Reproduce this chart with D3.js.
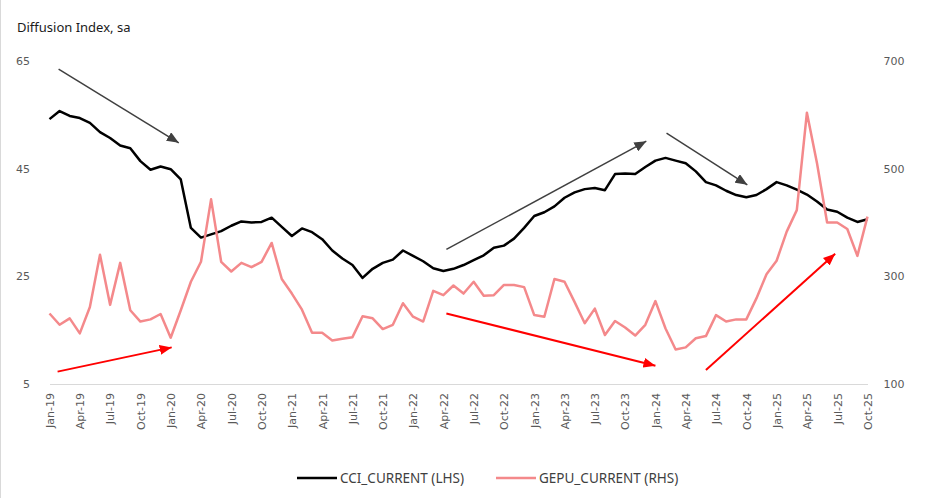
<!DOCTYPE html>
<html>
<head>
<meta charset="utf-8">
<script src="https://cdn.jsdelivr.net/npm/d3@7"></script>
<style>
  body { margin: 0; background: #fff; }
  svg text { font-family: "DejaVu Sans", sans-serif; }
</style>
</head>
<body>
<svg id="chart" width="925" height="498"></svg>
<script>
// monthly categories Jan-19 .. Oct-25
const months = d3.timeMonth.range(new Date(2019, 0, 1), new Date(2025, 10, 1)).map(d3.timeFormat("%b-%y"));

const tickLabels = ["Jan-19","Apr-19","Jul-19","Oct-19","Jan-20","Apr-20","Jul-20","Oct-20",
  "Jan-21","Apr-21","Jul-21","Oct-21","Jan-22","Apr-22","Jul-22","Oct-22",
  "Jan-23","Apr-23","Jul-23","Oct-23","Jan-24","Apr-24","Jul-24","Oct-24",
  "Jan-25","Apr-25","Jul-25","Oct-25"];

const leftTicks = [5, 25, 45, 65];
const rightTicks = [100, 300, 500, 700];

// CCI_CURRENT (LHS)
const cci = [
  54.2, 55.7, 54.8, 54.4, 53.5, 51.8, 50.7, 49.3, 48.8, 46.4, 44.8, 45.4,   // 2019
  44.9, 43.0, 34.0, 32.2, 32.8, 33.4, 34.4, 35.2, 35.0, 35.1, 35.9, 34.2,   // 2020
  32.5, 33.9, 33.2, 31.9, 29.8, 28.3, 27.1, 24.7, 26.4, 27.5, 28.1, 29.8,   // 2021
  28.8, 27.8, 26.5, 26.0, 26.4, 27.1, 28.0, 28.9, 30.3, 30.7, 32.0, 34.0,   // 2022
  36.2, 36.9, 38.0, 39.6, 40.6, 41.2, 41.4, 41.0, 44.0, 44.1, 44.0, 45.3,   // 2023
  46.5, 47.0, 46.5, 46.0, 44.5, 42.5, 41.9, 40.9, 40.1, 39.7, 40.1, 41.2,   // 2024
  42.5, 41.9, 41.1, 40.2, 38.9, 37.4, 37.0, 35.9, 35.1, 35.6                // 2025
];

// GEPU_CURRENT (RHS)
const gepu = [
  231, 210, 222, 194, 243, 340, 247, 325, 237, 216, 220, 230,   // 2019
  186, 237, 290, 327, 443, 327, 309, 325, 317, 327, 362, 295,   // 2020
  268, 238, 195, 195, 181, 184, 187, 226, 222, 202, 210, 250,   // 2021
  225, 216, 273, 265, 283, 268, 290, 264, 265, 284, 284, 280,   // 2022
  228, 225, 295, 290, 252, 213, 240, 191, 217, 205, 190, 210,   // 2023
  254, 203, 164, 168, 185, 189, 228, 216, 220, 220, 259, 304,   // 2024
  329, 383, 423, 604, 510, 400, 400, 388, 338, 411              // 2025
];

// annotation arrows: [monthIndex, LHS value] start -> end
const greyArrows = [
  [[0.9, 63.5], [12.8, 49.8]],
  [[39.3, 30.0], [59.1, 50.1]],
  [[61.1, 51.6], [69.1, 42.0]]
];
const redArrows = [
  [[0.8, 7.3], [12.1, 11.8]],
  [[39.3, 18.1], [60.0, 8.4]],
  [[65.0, 7.6], [77.8, 29.2]]
];

const svg = d3.select("#chart");
const margin = { top: 61, right: 57.5, bottom: 114, left: 49.5 };
const width = +svg.attr("width") - margin.left - margin.right;
const height = +svg.attr("height") - margin.top - margin.bottom;

// chart frame edge
svg.append("line")
  .attr("x1", 0.5).attr("x2", 0.5).attr("y1", 0).attr("y2", 498)
  .attr("stroke", "#d9d9d9");

const x = d3.scaleLinear().domain([0, months.length - 1]).range([0, width]);
const yL = d3.scaleLinear().domain([5, 65]).range([height, 0]);
const yR = d3.scaleLinear().domain([100, 700]).range([height, 0]);

const g = svg.append("g").attr("transform", `translate(${margin.left},${margin.top})`);

// x axis
const xTickIdx = tickLabels.map(l => months.indexOf(l));
const xAxis = g.append("g")
  .attr("transform", `translate(0,${height})`)
  .call(d3.axisBottom(x).tickValues(xTickIdx).tickFormat((d, i) => tickLabels[i]).tickSize(0));
xAxis.select(".domain").attr("stroke", "#d9d9d9");
xAxis.selectAll("text")
  .attr("transform", "rotate(-90)")
  .attr("x", -9)
  .attr("y", 0)
  .attr("dy", "0.35em")
  .style("text-anchor", "end")
  .attr("fill", "#595959")
  .style("font-size", "11px");

// left axis
const yAxisL = g.append("g")
  .call(d3.axisLeft(yL).tickValues(leftTicks).tickSize(0).tickPadding(19.5));
yAxisL.select(".domain").remove();
yAxisL.selectAll("text").attr("fill", "#595959").style("font-size", "11px");

// right axis
const yAxisR = g.append("g")
  .attr("transform", `translate(${width},0)`)
  .call(d3.axisRight(yR).tickValues(rightTicks).tickSize(0).tickPadding(16));
yAxisR.select(".domain").remove();
yAxisR.selectAll("text").attr("fill", "#595959").style("font-size", "11px");

// lines
g.append("path")
  .datum(cci)
  .attr("fill", "none")
  .attr("stroke", "#000")
  .attr("stroke-width", 2.5)
  .attr("stroke-linejoin", "round")
  .attr("d", d3.line().x((d, i) => x(i)).y(d => yL(d)));

g.append("path")
  .datum(gepu)
  .attr("fill", "none")
  .attr("stroke", "#F4898B")
  .attr("stroke-width", 2.5)
  .attr("stroke-linejoin", "round")
  .attr("d", d3.line().x((d, i) => x(i)).y(d => yR(d)));

// arrow heads
const defs = svg.append("defs");
function marker(id, color) {
  defs.append("marker")
    .attr("id", id)
    .attr("viewBox", "0 0 12 10")
    .attr("refX", 12).attr("refY", 5)
    .attr("markerUnits", "userSpaceOnUse")
    .attr("markerWidth", 12).attr("markerHeight", 10)
    .attr("orient", "auto")
    .append("path").attr("d", "M0,0L12,5L0,10Z").attr("fill", color);
}
marker("headGrey", "#404040");
marker("headRed", "#FF0000");

g.selectAll(".arrow-grey")
  .data(greyArrows)
  .enter().append("line")
  .attr("class", "arrow-grey")
  .attr("x1", d => x(d[0][0])).attr("y1", d => yL(d[0][1]))
  .attr("x2", d => x(d[1][0])).attr("y2", d => yL(d[1][1]))
  .attr("stroke", "#404040")
  .attr("stroke-width", 1.5)
  .attr("marker-end", "url(#headGrey)");

g.selectAll(".arrow-red")
  .data(redArrows)
  .enter().append("line")
  .attr("class", "arrow-red")
  .attr("x1", d => x(d[0][0])).attr("y1", d => yL(d[0][1]))
  .attr("x2", d => x(d[1][0])).attr("y2", d => yL(d[1][1]))
  .attr("stroke", "#FF0000")
  .attr("stroke-width", 2)
  .attr("marker-end", "url(#headRed)");

// title
svg.append("text")
  .attr("x", 17).attr("y", 32)
  .style("font-family", "'Noto Sans', sans-serif")
  .style("font-size", "13px")
  .attr("fill", "#1a1a1a")
  .text("Diffusion Index, sa");

// legend
const legend = svg.append("g").attr("transform", "translate(297,478)");
const items = [
  { label: "CCI_CURRENT (LHS)", color: "#000", x: 0 },
  { label: "GEPU_CURRENT (RHS)", color: "#F4898B", x: 199 }
];
const li = legend.selectAll("g").data(items).enter().append("g")
  .attr("transform", d => `translate(${d.x},0)`);
li.append("line").attr("x1", 0).attr("x2", 40).attr("stroke", d => d.color).attr("stroke-width", 2.5);
li.append("text")
  .attr("x", 43).attr("dy", "0.35em")
  .style("font-family", "'Noto Sans', sans-serif")
  .style("font-size", "13.5px")
  .attr("fill", "#404040")
  .text(d => d.label);
</script>
</body>
</html>
